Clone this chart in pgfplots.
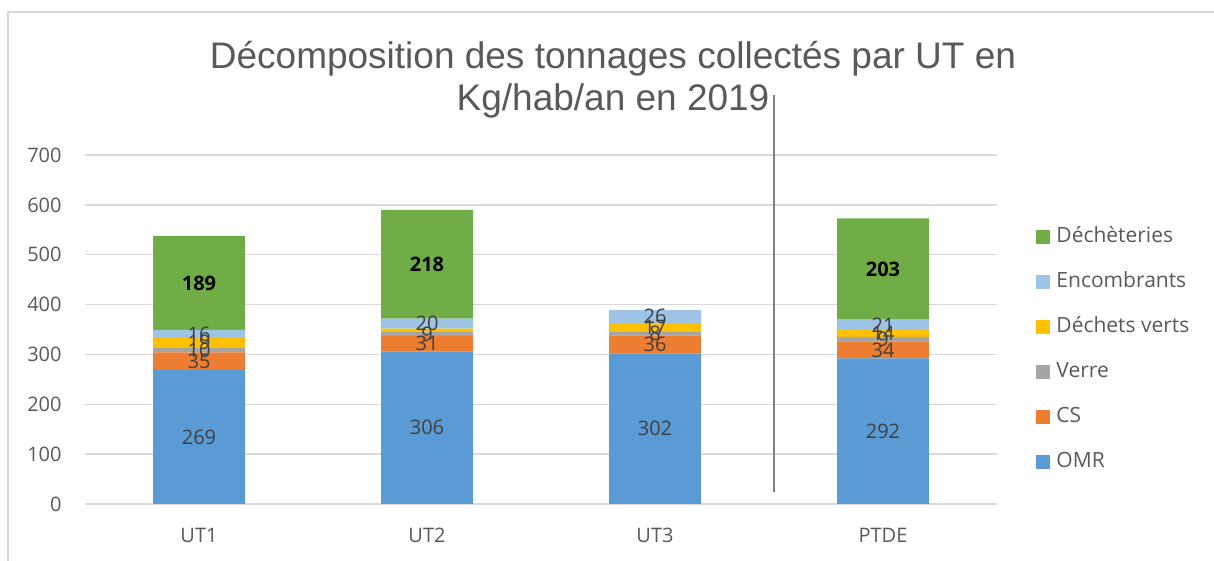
\documentclass[border=0pt]{standalone}
\usepackage{fontspec}
\setmainfont{Open Sans}
\newfontfamily\titlefont{Liberation Sans}
\usepackage{pgfplots}
\pgfplotsset{compat=1.18}
\definecolor{cOMR}{HTML}{5B9BD5}
\definecolor{cCS}{HTML}{ED7D31}
\definecolor{cVerre}{HTML}{A5A5A5}
\definecolor{cDV}{HTML}{FFC000}
\definecolor{cEnc}{HTML}{9DC3E6}
\definecolor{cDech}{HTML}{70AD47}
\definecolor{txt}{HTML}{595959}
\definecolor{lab}{HTML}{404040}
\definecolor{gridc}{HTML}{D9D9D9}
\pgfplotsset{
  common/.style={
    scale only axis, width=456pt, height=174.5pt,
    xmin=-0.5, xmax=3.5, ymin=0, ymax=700,
    at={(0,0)}, anchor=south west, clip=false,
  }
}
\begin{document}
\begin{tikzpicture}
\useasboundingbox (-42.5pt,-28.5pt) rectangle (564.5pt,252pt);
\draw[gridc, line width=0.75pt] (-38.5pt,-30pt) -- (-38.5pt,246pt) -- (570pt,246pt);
\begin{axis}[common,
  ybar stacked, bar width=46pt,
  axis line style={draw=none},
  ymajorgrids, xmajorgrids=false, grid style={color=gridc, line width=0.75pt},
  ytick={0,100,...,700},
  xtick={0,1,2,3}, xticklabels={UT1,UT2,UT3,PTDE},
  major tick length=0pt, tick style={draw=none},
  /pgf/number format/assume math mode=true,
  tick label style={font=\fontsize{10}{12}\selectfont, text=txt},
  yticklabel style={inner sep=0pt, anchor=east, xshift=-11.5pt},
  xticklabel style={inner sep=0pt, anchor=north, yshift=-12pt},
  reverse legend,
  legend cell align=left,
  legend style={draw=none, fill=none, at={(1.0428,0.4427)}, anchor=west,
    font=\fontsize{10.5}{12}\selectfont, text=txt, row sep=13pt,
    inner sep=0pt,
    nodes={inner sep=0pt, text height=7.5pt, text depth=2pt}},
  legend image code/.code={\fill[#1] (0pt,-3.5pt) rectangle (7pt,3.5pt);},
]
\addplot[fill=cOMR, draw=none] coordinates {(0,269) (1,306) (2,302) (3,292)};
\addlegendentry{\hspace{3pt}OMR}
\addplot[fill=cCS, draw=none] coordinates {(0,35) (1,31) (2,36) (3,34)};
\addlegendentry{\hspace{3pt}CS}
\addplot[fill=cVerre, draw=none] coordinates {(0,10) (1,9) (2,8) (3,9)};
\addlegendentry{\hspace{3pt}Verre}
\addplot[fill=cDV, draw=none] coordinates {(0,19) (1,6) (2,17) (3,14)};
\addlegendentry{\hspace{3pt}Déchets verts}
\addplot[fill=cEnc, draw=none] coordinates {(0,16) (1,20) (2,26) (3,21)};
\addlegendentry{\hspace{3pt}Encombrants}
\addplot[fill=cDech, draw=none] coordinates {(0,189) (1,218) (2,0) (3,203)};
\addlegendentry{\hspace{3pt}Déchèteries}
\draw[color=gray, line width=1pt] (axis cs:2.52,25) -- (axis cs:2.52,820);
\end{axis}
\begin{axis}[common, hide axis]
\addplot[only marks, mark=none, nodes near coords, point meta=explicit symbolic,
  every node near coord/.append style={anchor=center, inner sep=0pt, text=lab,
    font=\fontsize{10}{12}\selectfont}]
  table[meta=lab] {
x y lab
0 134.5 269
0 286.5 35
0 309 10
0 323.5 19
0 341 16
1 153 306
1 321.5 31
1 341 9
1 362 20
2 151 302
2 320 36
2 342 8
2 354.5 17
2 376 26
3 146 292
3 309 34
3 330.5 9
3 342 14
3 359.5 21
};
\addplot[only marks, mark=none, nodes near coords, point meta=explicit symbolic,
  every node near coord/.append style={anchor=center, inner sep=0pt, text=black,
    font=\fontsize{10}{12}\selectfont\bfseries}]
  table[meta=lab] {
x y lab
0 443.5 189
1 481 218
3 471.5 203
};
\end{axis}
\node[anchor=base, font=\titlefont\fontsize{18.5}{22}\selectfont, text=txt] at (264pt,217.5pt) {Décomposition des tonnages collectés par UT en};
\node[anchor=base, font=\titlefont\fontsize{18.5}{22}\selectfont, text=txt] at (264pt,196.5pt) {Kg/hab/an en 2019};
\end{tikzpicture}
\end{document}
